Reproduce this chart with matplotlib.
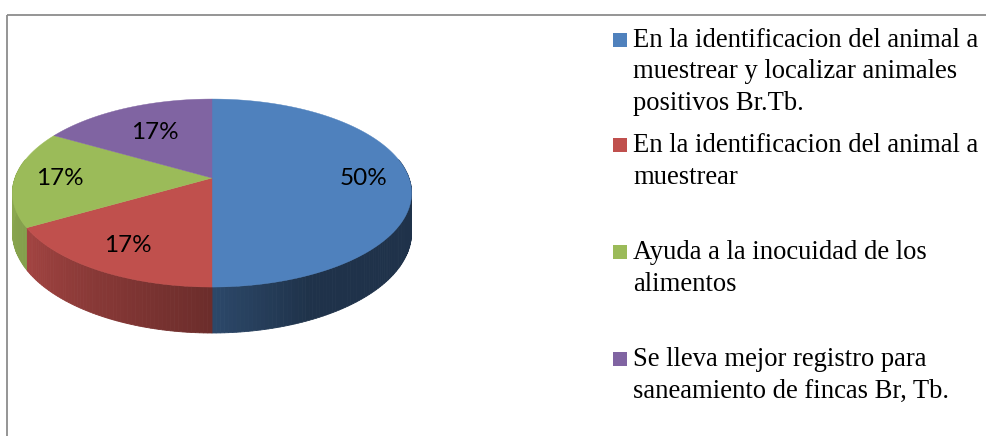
import numpy as np
import matplotlib
matplotlib.use("Agg")
import matplotlib.pyplot as plt
from matplotlib.patches import Polygon, Rectangle
from matplotlib.colors import to_rgb

# ---- data ----
categories = [
    "En la identificacion del animal a\nmuestrear y localizar animales\npositivos Br.Tb.",
    "En la identificacion del animal a\nmuestrear",
    "Ayuda a la inocuidad de los\nalimentos",
    "Se lleva mejor registro para\nsaneamiento de fincas Br, Tb.",
]
values = [3, 1, 1, 1]
colors = ["#4f81bd", "#c0504d", "#9bbb59", "#8064a2"]

# ---- layout (pixel space) ----
W, H = 986, 436
fig = plt.figure(figsize=(W / 100, H / 100), dpi=100)
ax = fig.add_axes([0, 0, 1, 1])
ax.set_xlim(0, W)
ax.set_ylim(H, 0)
ax.axis("off")

# chart frame
ax.add_patch(Rectangle((6.5, 15.5), 1200, 600, fill=False, edgecolor="#8c8c8c", lw=1.3))

cx, cy = 212.0, 178.0
R, RY, K, D = 197.0, 91.6, 0.16, 38.6
label_r = [0.77, 0.76, 0.77, 0.63]


def proj(theta, r=1.0, h=0.0):
    z = r * np.cos(theta)
    f = 1.0 / (1.0 + K * z)
    x = cx + R * r * np.sin(theta) * f
    y = cy + (-RY * r * np.cos(theta) + h) * f
    return x, y


def shade(theta):
    deg = np.degrees(theta) % 360
    return np.interp(deg, [0, 90, 155, 180, 240, 270, 360],
                     [0.39, 0.39, 0.39, 0.56, 0.85, 0.90, 0.90])


total = float(sum(values))
bounds = np.concatenate([[0], np.cumsum(values)]) / total * 2 * np.pi

# side walls
for i, c in enumerate(colors):
    t0, t1 = bounds[i], bounds[i + 1]
    ts = np.linspace(t0, t1, max(int((t1 - t0) / np.radians(1.0)), 2) + 1)
    base = np.array(to_rgb(c))
    for a, b in zip(ts[:-1], ts[1:]):
        m = 0.5 * (a + b)
        if np.cos(m) > 0.2:
            continue
        col = np.clip(base * shade(m), 0, 1)
        p1, p2 = proj(a), proj(b)
        p3, p4 = proj(b, h=D), proj(a, h=D)
        ax.add_patch(Polygon([p1, p2, p3, p4], closed=True, facecolor=col,
                             edgecolor=col, lw=0.6, zorder=2))

# top faces
for i, c in enumerate(colors):
    t0, t1 = bounds[i], bounds[i + 1]
    ts = np.linspace(t0, t1, 200)
    pts = [proj(0, 0)] + [proj(t) for t in ts]
    ax.add_patch(Polygon(pts, closed=True, facecolor=c, edgecolor=c, lw=0.3, zorder=3))

# data labels
for i, v in enumerate(values):
    mid = 0.5 * (bounds[i] + bounds[i + 1])
    x, y = proj(mid, label_r[i])
    ax.text(x, y, f"{round(100 * v / total)}%", ha="center", va="center",
            fontsize=17.5, family="Lato", color="black", zorder=5)

# legend
legend_x = 613
entry_baselines = [47, 152, 259, 366]
line_step = 31.5
for c, label, yb in zip(colors, categories, entry_baselines):
    ax.add_patch(Rectangle((legend_x, yb - 14), 14, 14, facecolor=c, edgecolor="none", zorder=4))
    for j, line in enumerate(label.split("\n")):
        ax.text(633, yb + j * line_step, line, ha="left", va="baseline",
                fontsize=19.2, family="Liberation Serif", color="black")

fig.savefig("out.png", dpi=100)
